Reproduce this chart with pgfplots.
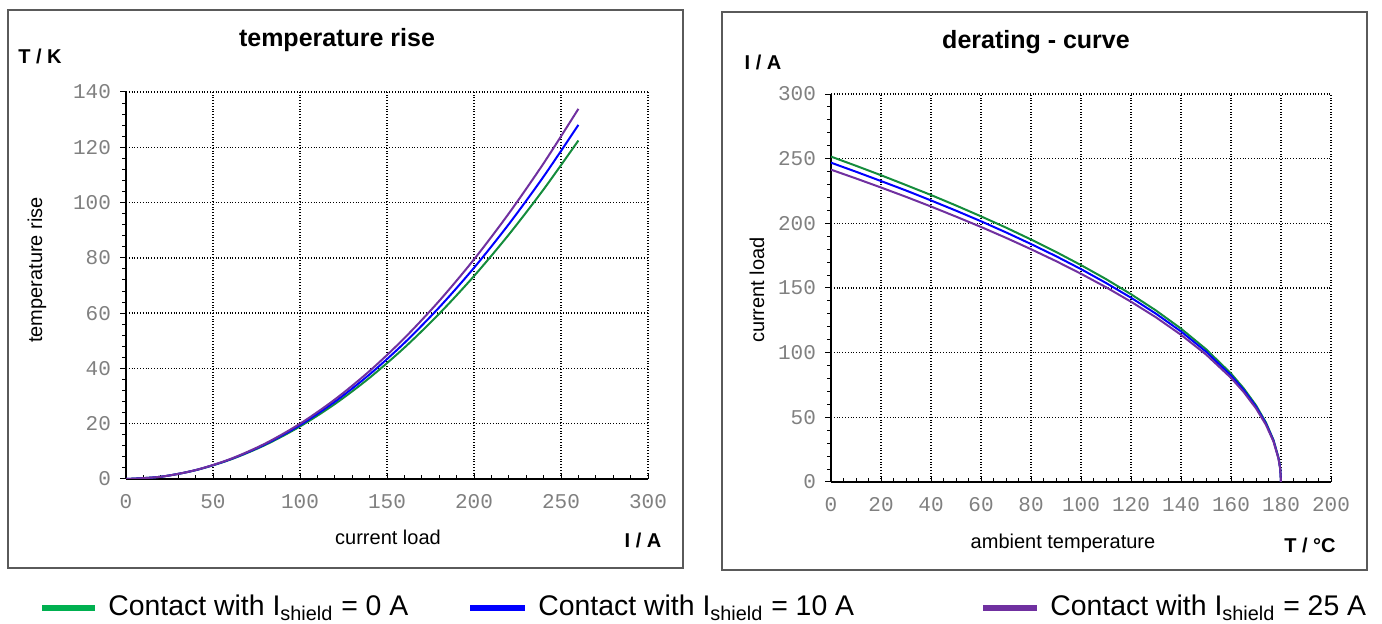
\documentclass[border=0pt]{standalone}
\usepackage{fontspec}
\setmainfont{Liberation Sans}
\newfontfamily\monofont{Liberation Mono}
\usepackage{pgfplots}
\pgfplotsset{compat=1.18}
\definecolor{cgreen}{RGB}{20,140,60}
\definecolor{cblue}{RGB}{0,0,255}
\definecolor{cpurple}{RGB}{112,48,160}
\definecolor{lgreen}{RGB}{0,176,80}
\definecolor{frame}{RGB}{90,90,90}
\pgfplotsset{
  myaxis/.style={
    scale only axis,
    axis x line=bottom, axis y line=left,
    axis line style={-, black, line width=0.6pt},
    grid=major, grid style={densely dotted, black, line width=0.7pt},
    tick style={black, line width=0.5pt},
    major tick length=3pt, minor tick length=2pt,
    tick align=outside,
    xtick align=inside,
    ticklabel style={font=\monofont\fontsize{10.5}{11}\selectfont, text=gray},
    /pgf/number format/assume math mode=true,
    /pgf/number format/1000 sep={},
    xticklabel style={yshift=-4pt},
    yticklabel style={xshift=-1pt},
    every axis plot/.append style={line width=1pt},
  }
}
\begin{document}
\begin{tikzpicture}
\useasboundingbox (0,0) rectangle (691pt,-312pt);
% frames
\draw[frame, line width=0.7pt] (4pt,-5pt) rectangle (341.5pt,-284pt);
\draw[frame, line width=0.7pt] (361pt,-6pt) rectangle (683.5pt,-285pt);

\begin{axis}[myaxis, at={(63pt,-239.5pt)}, anchor=south west,
  width=261pt, height=193.5pt,
  xmin=0, xmax=300, ymin=0, ymax=140,
  xtick={0,50,...,300}, ytick={0,20,...,140},
  minor x tick num=4, minor y tick num=4]
\addplot[cgreen, smooth] coordinates {
(0,0) (20,0.82) (40,3.18) (60,7.02) (80,12.30) (100,19.0) (120,27.11) (140,36.62)
(160,47.51) (180,59.78) (200,73.41) (220,88.41) (240,104.76) (260,122.45)};
\addplot[cblue, smooth] coordinates {
(0,0) (20,0.82) (40,3.21) (60,7.13) (80,12.56) (100,19.5) (120,27.93) (140,37.84)
(160,49.22) (180,62.08) (200,76.39) (220,92.18) (240,109.41) (260,128.1)};
\addplot[cpurple, smooth] coordinates {
(0,0) (20,0.81) (40,3.23) (60,7.24) (80,12.83) (100,20.0) (120,28.75) (140,39.07)
(160,50.96) (180,64.42) (200,79.44) (220,96.05) (240,114.20) (260,133.9)};
\end{axis}

\begin{axis}[myaxis, at={(415.5pt,-241pt)}, anchor=south west,
  width=250pt, height=194pt,
  xmin=0, xmax=200, ymin=0, ymax=300,
  xtick={0,20,...,200}, ytick={0,50,...,300},
  minor x tick num=3, minor y tick num=4]
\addplot[cgreen] coordinates {
(0,251.6) (10,244.5) (20,237.2) (30,229.6) (40,221.9) (50,213.8) (60,205.4) (70,196.7)
(80,187.5) (90,177.9) (100,167.7) (110,156.9) (120,145.2) (130,132.6) (140,118.6)
(150,102.7) (160,83.9) (165,72.6) (170,59.3) (174,45.9) (177,32.5) (179,18.8) (179.7,10.3) (180,0)};
\addplot[cblue] coordinates {
(0,246.9) (10,239.9) (20,232.7) (30,225.4) (40,217.7) (50,209.8) (60,201.6) (70,193.0)
(80,184.0) (90,174.6) (100,164.6) (110,153.9) (120,142.5) (130,130.1) (140,116.4)
(150,100.8) (160,82.3) (165,71.3) (170,58.2) (174,45.1) (177,31.9) (179,18.4) (179.7,10.1) (180,0)};
\addplot[cpurple] coordinates {
(0,241.5) (10,234.7) (20,227.7) (30,220.5) (40,213.0) (50,205.2) (60,197.2) (70,188.8)
(80,180.0) (90,170.8) (100,161.0) (110,150.6) (120,139.4) (130,127.3) (140,113.8)
(150,98.6) (160,80.5) (165,69.7) (170,56.9) (174,44.1) (177,31.2) (179,18.0) (179.7,9.9) (180,0)};
\end{axis}

% left labels
\node[font=\bfseries\fontsize{12.5}{12.5}\selectfont] at (168.5pt,-20pt) {temperature rise};
\node[font=\bfseries\fontsize{10}{10}\selectfont] at (20pt,-28pt) {T / K};
\node[font=\fontsize{10}{10}\selectfont, rotate=90] at (18.5pt,-135pt) {temperature rise};
\node[font=\fontsize{10}{10}\selectfont] at (194pt,-268.5pt) {current load};
\node[font=\bfseries\fontsize{10}{10}\selectfont] at (321.5pt,-270pt) {I / A};
% right labels
\node[font=\bfseries\fontsize{12.5}{12.5}\selectfont] at (518pt,-21pt) {derating - curve};
\node[font=\bfseries\fontsize{10}{10}\selectfont] at (381.5pt,-31pt) {I / A};
\node[font=\fontsize{10}{10}\selectfont, rotate=90] at (378.5pt,-145pt) {current load};
\node[font=\fontsize{10}{10}\selectfont] at (531.5pt,-271.5pt) {ambient temperature};
\node[font=\bfseries\fontsize{10}{10}\selectfont] at (655pt,-272.5pt) {T / °C};
% legend
\draw[lgreen, line width=3pt] (21pt,-304pt) -- (47.5pt,-304pt);
\node[anchor=west, inner sep=0pt, font=\fontsize{14.2}{15}\selectfont] at (54pt,-304pt) {Contact with I\textsubscript{shield} = 0 A};
\draw[cblue, line width=3pt] (235pt,-304pt) -- (262.5pt,-304pt);
\node[anchor=west, inner sep=0pt, font=\fontsize{14.2}{15}\selectfont] at (269pt,-304pt) {Contact with I\textsubscript{shield} = 10 A};
\draw[cpurple, line width=3pt] (491.5pt,-304pt) -- (518.5pt,-304pt);
\node[anchor=west, inner sep=0pt, font=\fontsize{14.2}{15}\selectfont] at (525pt,-304pt) {Contact with I\textsubscript{shield} = 25 A};
\end{tikzpicture}
\end{document}
